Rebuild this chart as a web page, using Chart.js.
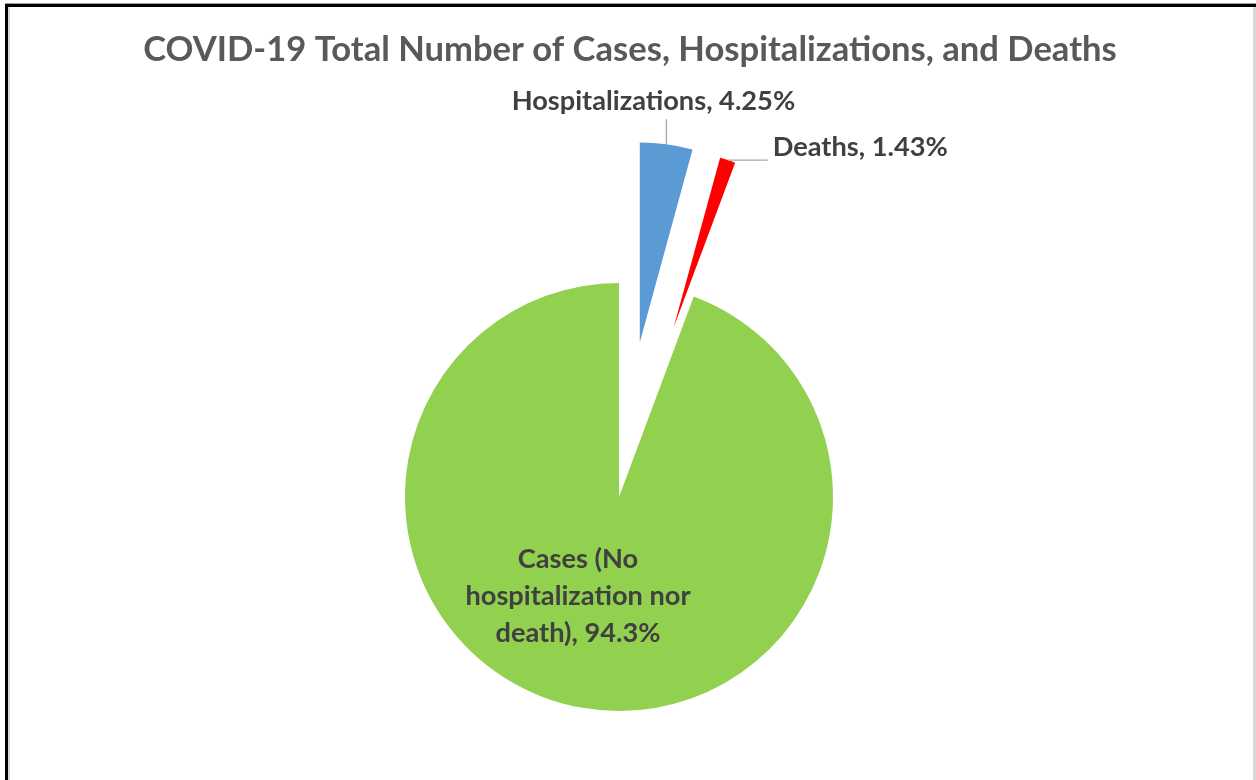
<!DOCTYPE html>
<html>
<head>
<meta charset="utf-8">
<title>COVID-19 Total Number of Cases, Hospitalizations, and Deaths</title>
<script src="https://cdn.jsdelivr.net/npm/chart.js@4.4.1/dist/chart.umd.min.js"></script>
<style>
  html, body { margin: 0; padding: 0; background: #fff; width: 1256px; height: 780px; overflow: hidden; }
  #wrap { position: relative; width: 1256px; height: 780px; }
  #chart { position: absolute; left: 0; top: 0; }
  .line { position: absolute; pointer-events: none; }
</style>
</head>
<body>
<div id="wrap">
  <canvas id="chart" width="1256" height="780"></canvas>
  <!-- window frame around the chart sheet -->
  <div class="line" style="left:5px;top:3px;width:1251px;height:1px;background:#9c9c9c"></div>
  <div class="line" style="left:5px;top:4px;width:1251px;height:3px;background:#000"></div>
  <div class="line" style="left:5px;top:4px;width:3px;height:776px;background:#000"></div>
  <div class="line" style="left:8px;top:7px;width:2px;height:773px;background:#d9d9d9"></div>
  <div class="line" style="left:1253px;top:7px;width:3px;height:773px;background:#d9d9d9"></div>
</div>
<script>
// Share of all reported COVID-19 cases, in percent
const categories = ['Hospitalizations', 'Deaths', 'Cases (No hospitalization nor death)'];
const shares = [4.25, 1.43, 94.3];
// category names as they are broken over lines in the data labels
const categoryLines = [['Hospitalizations'], ['Deaths'], ['Cases (No', 'hospitalization nor', 'death)']];

const sliceColors = ['#5B9BD5', '#FF0000', '#92D050'];
// how far each slice is pulled out of the pie, and its radius (px)
const explodeShift = [156, 178, 0];
const sliceRadius = [200, 176, 214];

const TITLE_TEXT = 'COVID-19 Total Number of Cases, Hospitalizations, and Deaths';
const FONT = 'Lato, "Open Sans", sans-serif';

// Label placement for each slice: 'outer' labels hang off a leader line,
// 'inside' labels sit within the slice.
const labelPlacement = [
  { kind: 'outer', leader: [0, -25], text: [-13, -9], align: 'center' },
  { kind: 'outer', leader: [40, 0], text: [45, -4], align: 'left' },
  { kind: 'inside', at: 0.5, text: [-22, -34], align: 'center' }
];

// Pull slices out along their mid-angle and give each its own radius.
const explodedSlices = {
  id: 'explodedSlices',
  afterDatasetsUpdate(chart) {
    const meta = chart.getDatasetMeta(0);
    meta.data.forEach((arc, i) => {
      const h = (arc.startAngle + arc.endAngle) / 2;
      arc.x += Math.cos(h) * explodeShift[i];
      arc.y += Math.sin(h) * explodeShift[i];
      arc.outerRadius = sliceRadius[i];
    });
  }
};

const sliceLabels = {
  id: 'sliceLabels',
  afterDatasetsDraw(chart) {
    const ctx = chart.ctx;
    const meta = chart.getDatasetMeta(0);
    ctx.save();
    // title
    ctx.font = 'bold 34.6px ' + FONT;
    ctx.fillStyle = '#595959';
    ctx.textAlign = 'center';
    ctx.textBaseline = 'alphabetic';
    ctx.fillText(TITLE_TEXT, 630, 61);

    ctx.font = 'bold 27.2px ' + FONT;
    meta.data.forEach((arc, i) => {
      const p = labelPlacement[i];
      const h = (arc.startAngle + arc.endAngle) / 2;
      const lines = categoryLines[i].slice();
      lines[lines.length - 1] += ', ' + shares[i] + '%';
      let tx, ty;
      if (p.kind === 'outer') {
        const ox = arc.x + Math.cos(h) * arc.outerRadius;
        const oy = arc.y + Math.sin(h) * arc.outerRadius;
        ctx.strokeStyle = '#A6A6A6';
        ctx.lineWidth = 1.3;
        ctx.beginPath();
        ctx.moveTo(ox, oy);
        ctx.lineTo(ox + p.leader[0], oy + p.leader[1]);
        ctx.stroke();
        tx = ox + p.text[0];
        ty = oy + p.leader[1] + p.text[1];
      } else {
        tx = arc.x + Math.cos(h) * arc.outerRadius * p.at + p.text[0];
        ty = arc.y + Math.sin(h) * arc.outerRadius * p.at + p.text[1];
      }
      ctx.fillStyle = '#404040';
      ctx.textAlign = p.align;
      lines.forEach((t, k) => ctx.fillText(t, tx, ty + k * 36.7));
    });
    ctx.restore();
  }
};

new Chart(document.getElementById('chart'), {
  type: 'pie',
  data: {
    labels: categories,
    datasets: [{
      data: shares,
      backgroundColor: sliceColors,
      borderWidth: 0,
      clip: false
    }]
  },
  options: {
    responsive: false,
    animation: false,
    events: [],
    radius: 214,
    layout: { padding: { left: 0, right: 18, top: 260, bottom: 46 } },
    plugins: {
      legend: { display: false },
      title: { display: false },
      tooltip: { enabled: false }
    }
  },
  plugins: [explodedSlices, sliceLabels]
});
</script>
</body>
</html>
